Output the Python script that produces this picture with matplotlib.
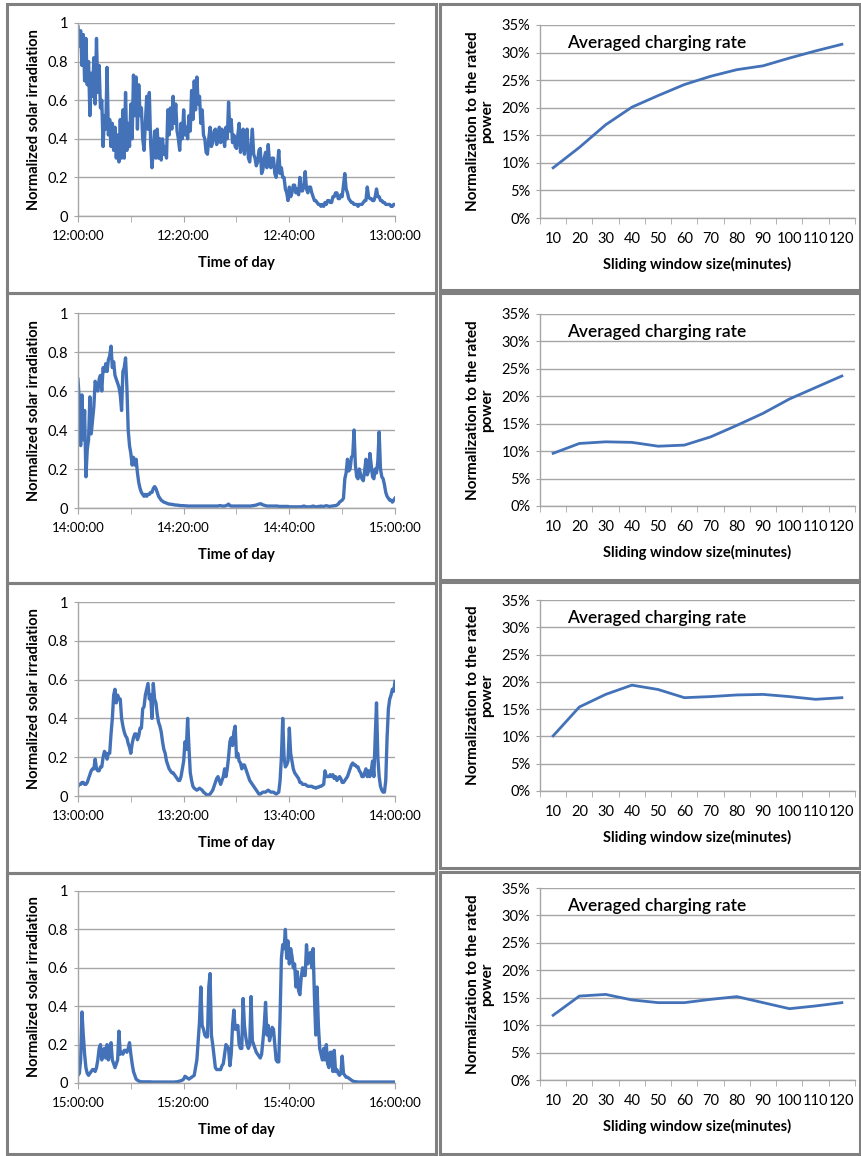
#!/usr/bin/env python3
# Solar irradiation traces (left) and averaged charging rate vs window size (right).

import matplotlib
matplotlib.use("Agg")
import matplotlib.pyplot as plt
from matplotlib.patches import Rectangle
import numpy as np

plt.rcParams["font.family"] = ["Lato", "DejaVu Sans"]

# ---- data -------------------------------------------------------------
# irradiation samples, one every 15 s over one hour (241 values each)
irr_12 = [
    0.98, 0.88, 0.96, 0.78, 0.94, 0.70, 0.92, 0.68,
    0.80, 0.52, 0.74, 0.62, 0.82, 0.58, 0.92, 0.64,
    0.78, 0.56, 0.60, 0.36, 0.52, 0.45, 0.77, 0.42,
    0.50, 0.36, 0.48, 0.34, 0.46, 0.30, 0.42, 0.28,
    0.50, 0.30, 0.55, 0.30, 0.64, 0.34, 0.48, 0.36,
    0.58, 0.40, 0.73, 0.52, 0.72, 0.45, 0.68, 0.52,
    0.56, 0.40, 0.34, 0.48, 0.62, 0.45, 0.64, 0.38,
    0.25, 0.34, 0.44, 0.30, 0.45, 0.30, 0.40, 0.29,
    0.40, 0.32, 0.36, 0.30, 0.55, 0.42, 0.56, 0.45,
    0.62, 0.48, 0.58, 0.44, 0.40, 0.34, 0.48, 0.40,
    0.55, 0.42, 0.46, 0.40, 0.52, 0.44, 0.65, 0.50,
    0.70, 0.55, 0.72, 0.58, 0.62, 0.48, 0.55, 0.42,
    0.40, 0.33, 0.32, 0.40, 0.46, 0.36, 0.38, 0.44,
    0.45, 0.37, 0.41, 0.46, 0.38, 0.45, 0.42, 0.36,
    0.46, 0.40, 0.59, 0.44, 0.50, 0.38, 0.42, 0.36,
    0.35, 0.42, 0.48, 0.33, 0.36, 0.45, 0.32, 0.40,
    0.45, 0.30, 0.28, 0.36, 0.45, 0.32, 0.30, 0.26,
    0.28, 0.34, 0.35, 0.22, 0.24, 0.30, 0.33, 0.25,
    0.37, 0.28, 0.25, 0.30, 0.30, 0.22, 0.20, 0.26,
    0.34, 0.22, 0.25, 0.20, 0.20, 0.14, 0.12, 0.08,
    0.15, 0.10, 0.12, 0.16, 0.16, 0.12, 0.14, 0.11,
    0.20, 0.13, 0.13, 0.16, 0.23, 0.14, 0.12, 0.15,
    0.15, 0.12, 0.10, 0.08, 0.08, 0.07, 0.06, 0.06,
    0.05, 0.06, 0.05, 0.07, 0.06, 0.08, 0.08, 0.07,
    0.07, 0.10, 0.10, 0.12, 0.12, 0.09, 0.09, 0.11,
    0.10, 0.16, 0.22, 0.14, 0.12, 0.09, 0.08, 0.07,
    0.07, 0.06, 0.06, 0.06, 0.05, 0.06, 0.06, 0.06,
    0.07, 0.08, 0.08, 0.15, 0.10, 0.09, 0.09, 0.08,
    0.08, 0.10, 0.14, 0.10, 0.10, 0.08, 0.08, 0.07,
    0.07, 0.06, 0.06, 0.06, 0.06, 0.05, 0.05, 0.06, 0.06,
]

irr_14 = [
    0.66, 0.55, 0.32, 0.58, 0.35, 0.50, 0.16, 0.30,
    0.35, 0.57, 0.38, 0.45, 0.52, 0.65, 0.62, 0.60,
    0.66, 0.68, 0.60, 0.72, 0.70, 0.74, 0.70, 0.76,
    0.78, 0.83, 0.72, 0.75, 0.68, 0.66, 0.64, 0.62,
    0.58, 0.50, 0.70, 0.72, 0.77, 0.62, 0.40, 0.32,
    0.28, 0.22, 0.26, 0.22, 0.25, 0.18, 0.13, 0.10,
    0.08, 0.07, 0.06, 0.07, 0.06, 0.07, 0.07, 0.08,
    0.08, 0.10, 0.11, 0.10, 0.08, 0.06, 0.05, 0.04,
    0.035, 0.03, 0.028, 0.025, 0.022, 0.02, 0.02, 0.018,
    0.018, 0.016, 0.015, 0.015, 0.014, 0.013, 0.012, 0.012,
    0.012, 0.011, 0.011, 0.01, 0.01, 0.01, 0.01, 0.01,
    0.01, 0.01, 0.01, 0.01, 0.01, 0.01, 0.01, 0.01,
    0.01, 0.01, 0.01, 0.01, 0.01, 0.01, 0.01, 0.01,
    0.01, 0.01, 0.01, 0.012, 0.012, 0.01, 0.01, 0.01,
    0.012, 0.015, 0.02, 0.012, 0.01, 0.01, 0.01, 0.01,
    0.01, 0.01, 0.01, 0.01, 0.01, 0.01, 0.01, 0.01,
    0.01, 0.01, 0.01, 0.01, 0.012, 0.012, 0.014, 0.015,
    0.018, 0.02, 0.022, 0.02, 0.016, 0.014, 0.012, 0.01,
    0.01, 0.01, 0.01, 0.01, 0.01, 0.01, 0.01, 0.01,
    0.008, 0.008, 0.008, 0.008, 0.008, 0.008, 0.008, 0.008,
    0.006, 0.006, 0.006, 0.006, 0.006, 0.006, 0.006, 0.006,
    0.006, 0.006, 0.008, 0.01, 0.008, 0.006, 0.006, 0.006,
    0.006, 0.008, 0.01, 0.008, 0.006, 0.006, 0.008, 0.008,
    0.01, 0.008, 0.008, 0.01, 0.012, 0.01, 0.008, 0.008,
    0.01, 0.01, 0.012, 0.012, 0.015, 0.02, 0.03, 0.035,
    0.04, 0.05, 0.15, 0.18, 0.25, 0.19, 0.20, 0.26,
    0.27, 0.40, 0.22, 0.16, 0.15, 0.20, 0.17, 0.15,
    0.14, 0.19, 0.25, 0.17, 0.19, 0.28, 0.22, 0.16,
    0.15, 0.20, 0.18, 0.24, 0.39, 0.20, 0.16, 0.15,
    0.12, 0.08, 0.06, 0.05, 0.04, 0.04, 0.03, 0.04, 0.05,
]

irr_13 = [
    0.05, 0.06, 0.06, 0.07, 0.07, 0.06, 0.06, 0.07,
    0.09, 0.11, 0.13, 0.14, 0.14, 0.19, 0.14, 0.13,
    0.13, 0.15, 0.15, 0.20, 0.23, 0.22, 0.19, 0.22,
    0.22, 0.32, 0.40, 0.52, 0.55, 0.48, 0.52, 0.50,
    0.50, 0.40, 0.36, 0.33, 0.31, 0.30, 0.27, 0.25,
    0.22, 0.27, 0.30, 0.32, 0.32, 0.29, 0.31, 0.35,
    0.35, 0.45, 0.46, 0.52, 0.55, 0.58, 0.50, 0.52,
    0.40, 0.58, 0.50, 0.48, 0.42, 0.38, 0.36, 0.33,
    0.28, 0.24, 0.22, 0.18, 0.16, 0.14, 0.13, 0.12,
    0.12, 0.11, 0.10, 0.09, 0.08, 0.08, 0.10, 0.14,
    0.18, 0.28, 0.24, 0.40, 0.25, 0.12, 0.08, 0.05,
    0.04, 0.035, 0.03, 0.035, 0.04, 0.035, 0.03, 0.02,
    0.015, 0.008, 0.005, 0.006, 0.01, 0.02, 0.03, 0.05,
    0.07, 0.09, 0.10, 0.08, 0.06, 0.08, 0.10, 0.14,
    0.10, 0.14, 0.20, 0.28, 0.30, 0.26, 0.33, 0.36,
    0.20, 0.22, 0.18, 0.17, 0.14, 0.16, 0.16, 0.14,
    0.12, 0.10, 0.08, 0.07, 0.06, 0.05, 0.04, 0.03,
    0.02, 0.01, 0.01, 0.015, 0.02, 0.02, 0.02, 0.025,
    0.03, 0.025, 0.02, 0.02, 0.02, 0.015, 0.01, 0.015,
    0.02, 0.08, 0.20, 0.40, 0.20, 0.15, 0.16, 0.18,
    0.35, 0.22, 0.18, 0.14, 0.12, 0.11, 0.10, 0.09,
    0.07, 0.07, 0.06, 0.06, 0.06, 0.055, 0.05, 0.05,
    0.05, 0.05, 0.045, 0.045, 0.04, 0.045, 0.045, 0.05,
    0.05, 0.055, 0.06, 0.13, 0.10, 0.10, 0.10, 0.11,
    0.10, 0.11, 0.09, 0.10, 0.08, 0.09, 0.10, 0.09,
    0.07, 0.07, 0.08, 0.09, 0.10, 0.12, 0.14, 0.16,
    0.17, 0.16, 0.16, 0.15, 0.15, 0.13, 0.12, 0.10,
    0.10, 0.12, 0.14, 0.10, 0.13, 0.10, 0.13, 0.18,
    0.10, 0.30, 0.48, 0.20, 0.10, 0.05, 0.03, 0.02,
    0.02, 0.08, 0.30, 0.45, 0.50, 0.52, 0.55, 0.54, 0.59,
]

irr_15 = [
    0.04, 0.05, 0.12, 0.37, 0.25, 0.15, 0.08, 0.05,
    0.04, 0.05, 0.06, 0.07, 0.07, 0.06, 0.08, 0.12,
    0.18, 0.20, 0.12, 0.17, 0.18, 0.13, 0.20, 0.12,
    0.15, 0.21, 0.12, 0.10, 0.08, 0.10, 0.12, 0.27,
    0.15, 0.16, 0.15, 0.17, 0.17, 0.16, 0.18, 0.21,
    0.15, 0.10, 0.06, 0.04, 0.02, 0.015, 0.01, 0.008,
    0.006, 0.006, 0.006, 0.006, 0.006, 0.006, 0.006, 0.006,
    0.005, 0.005, 0.005, 0.005, 0.005, 0.005, 0.005, 0.005,
    0.005, 0.005, 0.005, 0.005, 0.005, 0.005, 0.005, 0.005,
    0.005, 0.005, 0.006, 0.006, 0.008, 0.01, 0.012, 0.015,
    0.02, 0.035, 0.03, 0.025, 0.02, 0.025, 0.03, 0.035,
    0.04, 0.08, 0.12, 0.22, 0.32, 0.50, 0.30, 0.28,
    0.25, 0.24, 0.24, 0.50, 0.57, 0.25, 0.20, 0.14,
    0.08, 0.07, 0.07, 0.07, 0.07, 0.09, 0.10, 0.15,
    0.20, 0.19, 0.18, 0.09, 0.15, 0.30, 0.38, 0.28,
    0.28, 0.30, 0.20, 0.18, 0.18, 0.44, 0.30, 0.24,
    0.20, 0.18, 0.20, 0.45, 0.22, 0.20, 0.18, 0.16,
    0.15, 0.14, 0.13, 0.15, 0.22, 0.30, 0.42, 0.25,
    0.30, 0.22, 0.25, 0.29, 0.28, 0.20, 0.12, 0.11,
    0.11, 0.35, 0.65, 0.72, 0.70, 0.80, 0.65, 0.74,
    0.62, 0.70, 0.66, 0.60, 0.62, 0.50, 0.58, 0.48,
    0.46, 0.55, 0.60, 0.56, 0.56, 0.72, 0.62, 0.66,
    0.68, 0.60, 0.70, 0.45, 0.25, 0.50, 0.30, 0.18,
    0.15, 0.12, 0.18, 0.12, 0.20, 0.10, 0.08, 0.16,
    0.16, 0.06, 0.17, 0.06, 0.07, 0.05, 0.04, 0.05,
    0.14, 0.05, 0.04, 0.03, 0.03, 0.025, 0.02, 0.015,
    0.01, 0.008, 0.007, 0.006, 0.005, 0.005, 0.005, 0.005,
    0.005, 0.005, 0.005, 0.005, 0.005, 0.005, 0.005, 0.005,
    0.005, 0.005, 0.005, 0.005, 0.005, 0.005, 0.005, 0.005,
    0.005, 0.005, 0.005, 0.005, 0.005, 0.005, 0.005, 0.005, 0.005,
]

time_labels_12 = ["12:00:00", "12:20:00", "12:40:00", "13:00:00"]
time_labels_14 = ["14:00:00", "14:20:00", "14:40:00", "15:00:00"]
time_labels_13 = ["13:00:00", "13:20:00", "13:40:00", "14:00:00"]
time_labels_15 = ["15:00:00", "15:20:00", "15:40:00", "16:00:00"]

# averaged charging rate (% of rated power) per sliding window size
window_sizes = [10, 20, 30, 40, 50, 60, 70, 80, 90, 100, 110, 120]
rate_12 = [9.1, 12.8, 16.9, 20.1, 22.2, 24.2, 25.7, 26.9, 27.6, 29.0, 30.3, 31.5]
rate_14 = [9.6, 11.4, 11.7, 11.6, 10.9, 11.1, 12.6, 14.7, 16.9, 19.5, 21.6, 23.7]
rate_13 = [10.1, 15.4, 17.7, 19.4, 18.6, 17.1, 17.3, 17.6, 17.7, 17.3, 16.8, 17.1]
rate_15 = [11.8, 15.3, 15.6, 14.6, 14.1, 14.1, 14.7, 15.2, 14.1, 13.0, 13.5, 14.1]

irr_series = [irr_12, irr_14, irr_13, irr_15]
irr_labels = [time_labels_12, time_labels_14, time_labels_13, time_labels_15]
rate_series = [rate_12, rate_14, rate_13, rate_15]

# ---- layout -------------------------------------------------------------
W, H = 862, 1156
fig = plt.figure(figsize=(W / 100, H / 100), dpi=100)

line_c = "#4472b8"
grid_c = "#a6a6a6"

# axes boxes in pixels: (x0, x1, ytop, ybottom)
left_boxes = [(78, 395, 23, 216), (78, 395, 313, 508), (78, 395, 602, 796), (78, 395, 891, 1083)]
right_boxes = [(540, 855, 25, 218), (540, 855, 314, 506), (540, 855, 600, 791), (540, 855, 888, 1080)]
# panel frames: (x0, x1, ytop, ybottom)
frames = [
    (7, 436, 4, 293), (7, 436, 293, 583), (7, 436, 583, 873), (7, 436, 873, 1154),
    (440, 860, 4, 290), (440, 860, 293, 580), (440, 860, 582, 868), (440, 860, 872, 1154),
]

for x0, x1, yt, yb in frames:
    fig.add_artist(Rectangle((x0 / W, 1 - yb / H), (x1 - x0) / W, (yb - yt) / H,
                             transform=fig.transFigure, fill=False,
                             edgecolor="#808080", linewidth=2.2))


def px_axes(box):
    x0, x1, yt, yb = box
    return fig.add_axes([x0 / W, 1 - yb / H, (x1 - x0) / W, (yb - yt) / H])


def style(ax):
    for s in ["top", "right"]:
        ax.spines[s].set_visible(False)
    for s in ["left", "bottom"]:
        ax.spines[s].set_color(grid_c)
        ax.spines[s].set_linewidth(1.0)
    ax.grid(axis="y", color=grid_c, linewidth=1.0)
    ax.set_axisbelow(True)


for i in range(4):
    # left: irradiation trace
    ax = px_axes(left_boxes[i])
    style(ax)
    vals = irr_series[i]
    t = np.arange(len(vals)) * 0.25  # minutes
    ax.plot(t, vals, color=line_c, linewidth=2.4)
    ax.set_xlim(0, 60)
    ax.set_ylim(0, 1)
    ax.set_yticks([0, 0.2, 0.4, 0.6, 0.8, 1.0])
    ax.set_yticklabels(["0", "0.2", "0.4", "0.6", "0.8", "1"])
    ax.set_xticks([0, 20, 40, 60])
    ax.set_xticklabels(irr_labels[i])
    ax.set_xticks(np.arange(0, 61, 10), minor=True)
    ax.tick_params(axis="x", which="both", direction="out", length=4, color=grid_c,
                   labelsize=9.5, pad=6)
    ax.tick_params(axis="y", direction="out", length=3, color=grid_c, labelsize=10.5, pad=4)
    ax.set_xlabel("Time of day", fontsize=10.5, fontweight="bold", labelpad=10)
    ax.set_ylabel("Normalized solar irradiation", fontsize=10.5, fontweight="bold", labelpad=5)

    # right: averaged charging rate
    ax = px_axes(right_boxes[i])
    style(ax)
    pos = np.arange(1, len(window_sizes) + 1)
    ax.plot(pos, rate_series[i], color=line_c, linewidth=2.0)
    ax.set_xlim(0.5, len(window_sizes) + 0.5)
    ax.set_ylim(0, 35)
    ax.set_yticks(np.arange(0, 36, 5))
    ax.set_yticklabels([f"{v}%" for v in range(0, 36, 5)])
    ax.set_xticks(pos)
    ax.set_xticklabels([str(w) for w in window_sizes])
    ax.set_xticks(np.arange(0.5, len(window_sizes) + 1, 1), minor=True)
    ax.tick_params(axis="x", which="major", length=0, labelsize=10.5, pad=10)
    ax.tick_params(axis="x", which="minor", direction="out", length=4, color=grid_c)
    ax.tick_params(axis="y", direction="out", length=3, color=grid_c, labelsize=10.5, pad=4)
    ax.set_xlabel("Sliding window size(minutes)", fontsize=10.5, fontweight="bold", labelpad=8)
    ax.set_ylabel("Normalization to the rated\npower", fontsize=11, fontweight="bold",
                  labelpad=5, linespacing=1.05)
    ax.text(0.085, 0.905, "Averaged charging rate", transform=ax.transAxes,
            fontsize=12.5, fontweight="semibold", va="center", ha="left")

fig.savefig("out.png", dpi=100, facecolor="white")
